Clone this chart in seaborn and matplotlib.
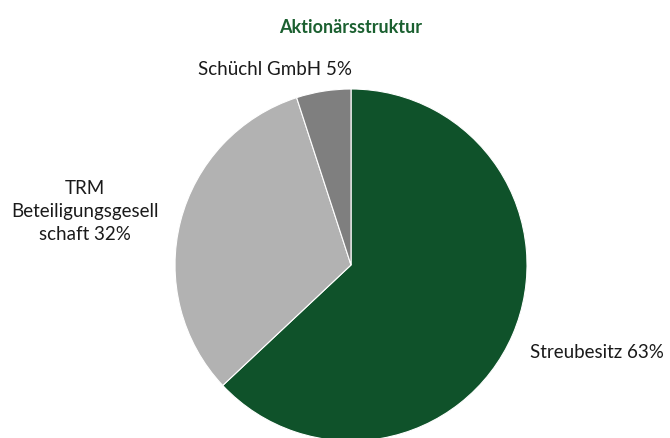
import matplotlib
matplotlib.use("Agg")
import matplotlib.pyplot as plt
import seaborn as sns

# Aktionärsstruktur
labels = ["Streubesitz 63%", "TRM\nBeteiligungsgesell\nschaft 32%", "Schüchl GmbH 5%"]
shares = [63, 32, 5]
colors = ["#0F522A", "#B2B2B2", "#7F7F7F"]

sns.set_theme(style="white")
plt.rcParams['font.family'] = ['Lato', 'DejaVu Sans']

fig = plt.figure(figsize=(6.7, 4.39), dpi=100)
ax = fig.add_axes([0.2612, -0.0068, 0.5254, 0.8018])

wedges, _ = ax.pie(shares, colors=colors, startangle=90, counterclock=False,
                   radius=1.0, wedgeprops=dict(edgecolor="white", linewidth=0.8))
ax.set_xlim(-1, 1)
ax.set_ylim(-1, 1)
ax.set_aspect("equal")
ax.axis("off")

# label positions (data coords, outside the pie like in Excel)
label_pos = [(1.395, -0.49), (-1.51, 0.31), (-0.43, 1.115)]
for (x, y), txt in zip(label_pos, labels):
    ax.text(x, y, txt, ha="center", va="center", fontsize=13.5,
            color="#1a1a1a", linespacing=1.4, clip_on=False)

fig.text(0.5235, 0.938, "Aktionärsstruktur", ha="center", va="center",
         fontsize=13, fontweight="bold", color="#1B6030")

fig.savefig("out.png", dpi=100)
